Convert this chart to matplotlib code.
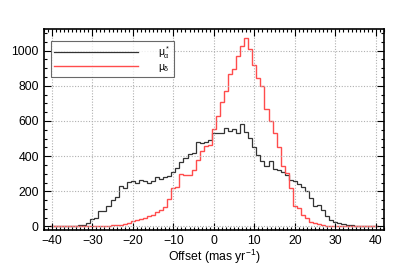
import numpy as np
import matplotlib
matplotlib.use("Agg")
import matplotlib.pyplot as plt
from matplotlib.ticker import MultipleLocator

plt.rcParams['font.family'] = ['Liberation Sans', 'DejaVu Sans']
plt.rcParams['mathtext.fontset'] = 'custom'
plt.rcParams['mathtext.rm'] = 'Liberation Sans'
plt.rcParams['mathtext.it'] = 'Liberation Sans'

# bin centres (mas/yr)
offset = np.arange(-40, 41)

mu_alpha = [0, 0, 0, 1, 1, 2, 3, 6, 10, 19,
            42, 49, 89, 89, 117, 151, 170, 233, 216, 252,
            256, 246, 265, 261, 250, 256, 284, 269, 280, 288,
            312, 331, 364, 392, 413, 417, 483, 473, 483, 489,
            534, 530, 534, 559, 544, 555, 530, 581, 540, 505,
            453, 405, 375, 345, 371, 326, 322, 312, 294, 262,
            256, 244, 223, 199, 161, 114, 123, 95, 57, 38,
            26, 19, 13, 9, 7, 5, 3, 2, 1, 1, 0]

mu_delta = [0, 0, 0, 0, 0, 0, 0, 0, 1, 1,
            1, 2, 2, 3, 4, 6, 8, 10, 13, 22,
            30, 38, 44, 48, 58, 68, 80, 96, 110, 155,
            220, 225, 300, 295, 293, 324, 380, 428, 455, 463,
            553, 630, 710, 771, 868, 897, 972, 1028, 1070, 1008,
            920, 843, 800, 667, 602, 530, 451, 345, 303, 218,
            114, 104, 66, 47, 28, 18, 12, 7, 4, 2,
            1, 0, 0, 0, 0, 0, 0, 0, 0, 0, 0]

labels = [r'$\mu_\alpha^*$', r'$\mu_\delta$']

fig = plt.figure(figsize=(4.07, 2.65), dpi=100)
ax = fig.add_axes([43.7/407, 1-230/265, (384-43.7)/407, (230-29)/265])

edges = np.append(offset - 0.5, offset[-1] + 0.5)
ax.stairs(mu_alpha, edges, color='#333333', lw=0.9, label=labels[0])
ax.stairs(mu_delta, edges, color='#ff4c4c', lw=1.0, label=labels[1])

ax.set_xlim(-42, 42)
ax.set_ylim(-20, 1123)
ax.xaxis.set_major_locator(MultipleLocator(10))
ax.xaxis.set_minor_locator(MultipleLocator(1))
ax.yaxis.set_major_locator(MultipleLocator(200))
ax.yaxis.set_minor_locator(MultipleLocator(50))
ax.tick_params(which='both', direction='in', top=True, right=True, labelsize=8.8, width=0.8)
ax.tick_params(which='major', length=5)
ax.tick_params(which='minor', length=2.5)
ax.set_xticks(np.arange(-40, 41, 10))
ax.set_xticklabels([('\u2212' if v < 0 else '') + str(abs(v)) for v in np.arange(-40, 41, 10)])
ax.grid(True, which='major', color='#b0b0b0', linestyle=(0, (1, 1.5)), lw=0.8)
for s in ax.spines.values():
    s.set_linewidth(1.2)
ax.set_xlabel('Offset (mas yr$^{-1}$)', fontsize=8.8, labelpad=1)

leg = ax.legend(loc='upper left', bbox_to_anchor=(0.022, 0.94), fontsize=7.5,
                handlelength=8.0, frameon=True, fancybox=False, edgecolor='#444444',
                borderpad=0.3, labelspacing=0.05, handletextpad=2.0, borderaxespad=0)
leg.get_frame().set_linewidth(0.8)

fig.savefig('out.png', dpi=100)
